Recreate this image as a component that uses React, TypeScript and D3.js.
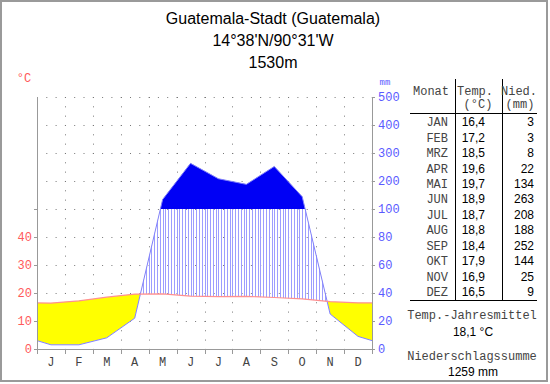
import React from "react";
import * as d3 from "d3";

const months = ["J", "F", "M", "A", "M", "J", "J", "A", "S", "O", "N", "D"];
const monthNames = ["JAN", "FEB", "MRZ", "APR", "MAI", "JUN", "JUL", "AUG", "SEP", "OKT", "NOV", "DEZ"];
const temps = [16.4, 17.2, 18.5, 19.6, 19.7, 18.9, 18.7, 18.8, 18.4, 17.9, 16.9, 16.5];
const tempLabels = ["16,4", "17,2", "18,5", "19,6", "19,7", "18,9", "18,7", "18,8", "18,4", "17,9", "16,9", "16,5"];
const precip = [3, 3, 8, 22, 134, 263, 208, 188, 252, 144, 25, 9];
const tempTicks = [0, 10, 20, 30, 40];
const tempGridTicks = [10, 20, 30, 40, 50];
const precTicks = [0, 20, 40, 60, 80, 100, 200, 300, 400, 500];
const title = ["Guatemala-Stadt (Guatemala)", "14°38'N/90°31'W", "1530m"];
const meanTemp = "18,1 °C";
const sumPrec = "1259 mm";

const MONO = "'Liberation Mono', 'DejaVu Sans Mono', monospace";
const SANS = "'Liberation Sans', Arial, sans-serif";

export default function App() {
  const x = d3.scaleLinear().domain([0, 12]).range([37, 372]);
  const yP = d3.scaleLinear().domain([0, 100, 500]).range([349, 209, 97]);
  const yT = (t: number) => yP(t * 2);

  type Pt = { m: number; t: number; p: number };
  const edgeT = (temps[0] + temps[11]) / 2;
  const edgeP = (precip[0] + precip[11]) / 2;
  const pts: Pt[] = [
    { m: 0, t: edgeT, p: edgeP },
    ...temps.map((t, i) => ({ m: i + 0.5, t, p: precip[i] })),
    { m: 12, t: edgeT, p: edgeP },
  ];

  const top = yP(500);
  const bottom = yP(0);
  const y100 = yP(100);

  const tempLine = d3.line<Pt>().x((d) => x(d.m)).y((d) => yT(d.t))(pts) || "";
  const precLine = d3.line<Pt>().x((d) => x(d.m)).y((d) => yP(d.p))(pts) || "";
  const aboveTemp = d3.area<Pt>().x((d) => x(d.m)).y0(top - 5).y1((d) => yT(d.t))(pts) || "";
  const belowPrec = d3.area<Pt>().x((d) => x(d.m)).y0((d) => yP(d.p)).y1(bottom)(pts) || "";
  const abovePrec = d3.area<Pt>().x((d) => x(d.m)).y0(top - 5).y1((d) => yP(d.p))(pts) || "";
  const aridArea = d3.area<Pt>().x((d) => x(d.m)).y0((d) => yT(d.t)).y1((d) => yP(d.p))(pts) || "";
  const wetArea = d3.area<Pt>().x((d) => x(d.m)).y0(y100).y1((d) => yP(d.p))(pts) || "";

  const hatchXs = d3.range(0, 121).map((i) => x(i / 10));
  const boundaries = d3.range(0, 13);

  const rowY = (i: number) => 122 + i * 15.45;
  const monoFill = "#444";

  return (
    <svg width={550} height={384} style={{ position: "absolute", left: 0, top: 0, background: "#fff" }}>
      <defs>
        <clipPath id="aboveTemp"><path d={aboveTemp} /></clipPath>
        <clipPath id="belowPrec"><path d={belowPrec} /></clipPath>
        <clipPath id="abovePrec"><path d={abovePrec} /></clipPath>
        <clipPath id="below100"><rect x={x(0)} y={y100} width={x(12) - x(0)} height={bottom - y100} /></clipPath>
        <clipPath id="above100"><rect x={x(0)} y={top} width={x(12) - x(0)} height={y100 - top} /></clipPath>
      </defs>
      <rect x={1} y={1} width={546} height={380} fill="#fff" stroke="#9a9a9a" strokeWidth={2} />

      {title.map((t, i) => (
        <text key={i} x={273} y={24 + i * 22} textAnchor="middle" fontFamily={SANS} fontSize={16} fill="#000">{t}</text>
      ))}

      {/* gridlines */}
      {precTicks.filter((v) => v > 0).map((v) => (
        <line key={"h" + v} x1={x(0)} x2={x(12)} y1={yP(v) + 0.5} y2={yP(v) + 0.5} stroke="#777" strokeWidth={1} strokeDasharray="1 8.3" />
      ))}
      {boundaries.slice(1, 12).map((b) => (
        <line key={"v" + b} x1={Math.round(x(b)) + 0.5} x2={Math.round(x(b)) + 0.5} y1={top} y2={bottom} stroke="#777" strokeWidth={1} strokeDasharray="1 8.33" />
      ))}

      {/* arid */}
      <g clipPath="url(#abovePrec)">
        <path d={aridArea} fill="#ffff00" stroke="none" />
      </g>
      {/* humid hatching */}
      <g clipPath="url(#below100)">
        <g clipPath="url(#belowPrec)">
          <g clipPath="url(#aboveTemp)">
            {hatchXs.map((hx, i) => (
              <line key={i} x1={Math.round(hx) + 0.5} x2={Math.round(hx) + 0.5} y1={top} y2={bottom} stroke="#9d9dff" strokeWidth={1} />
            ))}
          </g>
        </g>
      </g>
      {/* perhumid */}
      <g clipPath="url(#above100)">
        <path d={wetArea} fill="#0000f5" stroke="none" />
      </g>

      <path d={precLine} fill="none" stroke="#8080ff" strokeWidth={1} />
      <path d={tempLine} fill="none" stroke="#ff9090" strokeWidth={1.2} />

      {/* axes */}
      <line x1={x(0) + 0.5} x2={x(0) + 0.5} y1={top} y2={bottom + 5} stroke="#999" />
      <line x1={x(12) + 0.5} x2={x(12) + 0.5} y1={top} y2={bottom + 5} stroke="#999" />
      <line x1={x(0)} x2={x(12)} y1={bottom + 0.5} y2={bottom + 0.5} stroke="#999" />
      {boundaries.map((b) => (
        <line key={"bt" + b} x1={Math.round(x(b)) + 0.5} x2={Math.round(x(b)) + 0.5} y1={bottom} y2={bottom + 5} stroke="#999" />
      ))}
      {[0, ...tempGridTicks].map((t) => (
        <line key={"lt" + t} x1={x(0) - 3} x2={x(0)} y1={yT(t) + 0.5} y2={yT(t) + 0.5} stroke="#999" />
      ))}
      {precTicks.map((v) => (
        <line key={"rt" + v} x1={x(12)} x2={x(12) + 3} y1={yP(v) + 0.5} y2={yP(v) + 0.5} stroke="#999" />
      ))}
      {tempTicks.map((t) => (
        <text key={"tl" + t} x={32} y={yT(t)} dy="0.35em" textAnchor="end" fontFamily={MONO} fontSize={12} fill="#ff5a5a">{t}</text>
      ))}
      {precTicks.map((v) => (
        <text key={"pl" + v} x={378} y={yP(v)} dy="0.35em" textAnchor="start" fontFamily={MONO} fontSize={12} fill="#5a5aff">{v}</text>
      ))}
      <text x={24} y={78} dy="0.35em" textAnchor="middle" fontFamily={MONO} fontSize={12} fill="#ff5a5a">°C</text>
      <text x={385} y={82} dy="0.35em" textAnchor="middle" fontFamily={MONO} fontSize={9} fill="#5a5aff">mm</text>
      {months.map((m, i) => (
        <text key={"m" + i} x={x(i + 0.5)} y={362} dy="0.35em" textAnchor="middle" fontFamily={MONO} fontSize={12} fill={monoFill}>{m}</text>
      ))}

      {/* table */}
      <line x1={455.5} x2={455.5} y1={79} y2={300} stroke="#000" />
      <line x1={502.5} x2={502.5} y1={79} y2={300} stroke="#000" />
      <line x1={410} x2={537} y1={113.5} y2={113.5} stroke="#000" />
      <line x1={410} x2={537} y1={300.5} y2={300.5} stroke="#000" />
      <text x={431} y={91} dy="0.35em" textAnchor="middle" fontFamily={MONO} fontSize={12} fill={monoFill}>Monat</text>
      <text x={475} y={91} dy="0.35em" textAnchor="middle" fontFamily={MONO} fontSize={12} fill={monoFill}>Temp.</text>
      <text x={478} y={103.5} dy="0.35em" textAnchor="middle" fontFamily={MONO} fontSize={12} fill={monoFill}>(°C)</text>
      <text x={519} y={91} dy="0.35em" textAnchor="middle" fontFamily={MONO} fontSize={12} fill={monoFill}>Nied.</text>
      <text x={520} y={103.5} dy="0.35em" textAnchor="middle" fontFamily={MONO} fontSize={12} fill={monoFill}>(mm)</text>
      {monthNames.map((mn, i) => (
        <g key={"r" + i}>
          <text x={448} y={rowY(i)} dy="0.35em" textAnchor="end" fontFamily={MONO} fontSize={12} fill={monoFill}>{mn}</text>
          <text x={485} y={rowY(i)} dy="0.35em" textAnchor="end" fontFamily={SANS} fontSize={12} fill="#000">{tempLabels[i]}</text>
          <text x={534} y={rowY(i)} dy="0.35em" textAnchor="end" fontFamily={SANS} fontSize={12} fill="#000">{precip[i]}</text>
        </g>
      ))}
      <text x={472} y={315} dy="0.35em" textAnchor="middle" fontFamily={MONO} fontSize={12} fill={monoFill}>Temp.-Jahresmittel</text>
      <text x={473} y={332} dy="0.35em" textAnchor="middle" fontFamily={SANS} fontSize={12} fill="#000">{meanTemp}</text>
      <text x={472} y={356} dy="0.35em" textAnchor="middle" fontFamily={MONO} fontSize={12} fill={monoFill}>Niederschlagssumme</text>
      <text x={473} y={372} dy="0.35em" textAnchor="middle" fontFamily={SANS} fontSize={12} fill="#000">{sumPrec}</text>
    </svg>
  );
}
